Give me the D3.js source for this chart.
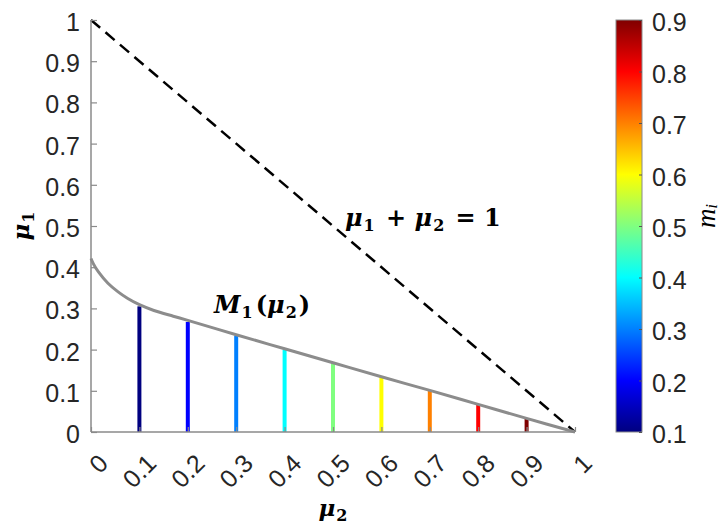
<!DOCTYPE html>
<html>
<head>
<meta charset="utf-8">
<script src="https://cdn.jsdelivr.net/npm/d3@7"></script>
<style>
  body { margin: 0; background: #fff; }
  svg { display: block; }
  .tick text { font-family: "Liberation Sans", Arial, sans-serif; font-size: 25px; fill: #262626; }
  .math { font-family: "DejaVu Serif", "Liberation Serif", serif; fill: #000; }
</style>
</head>
<body>
<div id="chart"></div>
<script>
// boundary curve M1(mu2)
var curveMu2 = [0, 0.005, 0.015, 0.035, 0.056, 0.076, 0.1, 0.13, 0.17, 0.2, 0.3, 0.4, 0.5, 0.6, 0.7, 0.8, 0.9, 1];
var curveMu1 = [0.421, 0.408, 0.389, 0.361, 0.340, 0.324, 0.309, 0.295, 0.281, 0.271, 0.236, 0.202, 0.168, 0.134, 0.101, 0.067, 0.033, 0];

// vertical bars, coloured by m_i
var barMu2 = [0.1, 0.2, 0.3, 0.4, 0.5, 0.6, 0.7, 0.8, 0.9];
var barMu1 = [0.305, 0.267, 0.234, 0.200, 0.167, 0.133, 0.100, 0.066, 0.032];
var barM   = [0.1, 0.2, 0.3, 0.4, 0.5, 0.6, 0.7, 0.8, 0.9];

var xTicks = [0, 0.1, 0.2, 0.3, 0.4, 0.5, 0.6, 0.7, 0.8, 0.9, 1];
var yTicks = [0, 0.1, 0.2, 0.3, 0.4, 0.5, 0.6, 0.7, 0.8, 0.9, 1];
var cTicks = [0.1, 0.2, 0.3, 0.4, 0.5, 0.6, 0.7, 0.8, 0.9];

var width = 725, height = 529;

var svg = d3.select("#chart").append("svg")
            .attr("width", width)
            .attr("height", height);

var x = d3.scaleLinear().domain([0, 1]).range([91, 575]);
var y = d3.scaleLinear().domain([0, 1]).range([432, 20]);

// matlab jet
function jet(t) {
  var c = function(v) { return Math.max(0, Math.min(1, v)); };
  var r = c(1.5 - Math.abs(4 * t - 3)),
      g = c(1.5 - Math.abs(4 * t - 2)),
      b = c(1.5 - Math.abs(4 * t - 1));
  return d3.rgb(r * 255, g * 255, b * 255).toString();
}
var cNorm = d3.scaleLinear().domain([0.1, 0.9]).range([0, 1]);

// dashed line mu1 + mu2 = 1
svg.append("line")
   .attr("x1", x(0)).attr("y1", y(1))
   .attr("x2", x(1)).attr("y2", y(0))
   .attr("stroke", "#000")
   .attr("stroke-width", 2.5)
   .attr("stroke-dasharray", "12,7");

// bars
svg.selectAll("line.bar")
   .data(barMu2)
   .enter()
   .append("line")
   .attr("class", "bar")
   .attr("x1", function(d) { return x(d); })
   .attr("x2", function(d) { return x(d); })
   .attr("y1", y(0))
   .attr("y2", function(d, i) { return y(barMu1[i]); })
   .attr("stroke", function(d, i) { return jet(cNorm(barM[i])); })
   .attr("stroke-width", 4);

// curve
var line = d3.line()
             .x(function(d) { return x(d[0]); })
             .y(function(d) { return y(d[1]); })
             .curve(d3.curveCatmullRom.alpha(0.5));
svg.append("path")
   .datum(d3.zip(curveMu2, curveMu1))
   .attr("d", line)
   .attr("fill", "none")
   .attr("stroke", "#8c8c8c")
   .attr("stroke-width", 3);

// axes
var yAxis = svg.append("g")
   .attr("transform", "translate(" + x(0) + ",0)")
   .call(d3.axisRight(y).tickValues(yTicks).tickSize(6).tickFormat(d3.format("")));
yAxis.selectAll(".tick text")
   .attr("x", -11).attr("dy", "0.42em").attr("text-anchor", "end");

var xAxis = svg.append("g")
   .attr("transform", "translate(0," + y(0) + ")")
   .call(d3.axisTop(x).tickValues(xTicks).tickSize(5).tickFormat(d3.format("")));
xAxis.selectAll(".tick text")
   .attr("y", 0).attr("dy", 0)
   .attr("text-anchor", "end")
   .attr("transform", "translate(18,33) rotate(-45)");

svg.selectAll(".domain").attr("stroke", "#8a8a8a").attr("stroke-width", 1.5);
svg.selectAll(".tick line").attr("stroke", "#8a8a8a").attr("stroke-width", 1.2);
// only bottom + left spines
xAxis.select(".domain").attr("d", "M" + x(0) + ",0H" + x(1));
yAxis.select(".domain").attr("d", "M0," + y(0) + "V" + y(1));

// colorbar
var cb = { x: 616, w: 26 };
var cy = d3.scaleLinear().domain([0.1, 0.9]).range([432, 20]);
var grad = svg.append("defs").append("linearGradient")
   .attr("id", "jetgrad")
   .attr("x1", 0).attr("y1", 1).attr("x2", 0).attr("y2", 0);
grad.selectAll("stop")
   .data(d3.range(0, 1.0001, 0.0625))
   .enter().append("stop")
   .attr("offset", function(d) { return d; })
   .attr("stop-color", function(d) { return jet(d); });
svg.append("rect")
   .attr("x", cb.x).attr("y", cy(0.9))
   .attr("width", cb.w).attr("height", cy(0.1) - cy(0.9))
   .attr("fill", "url(#jetgrad)")
   .attr("stroke", "#8a8a8a").attr("stroke-width", 1);
var cAxis = svg.append("g")
   .attr("transform", "translate(" + (cb.x + cb.w) + ",0)")
   .call(d3.axisLeft(cy).tickValues(cTicks).tickSize(3).tickFormat(d3.format("")));
cAxis.select(".domain").remove();
cAxis.selectAll(".tick line").attr("stroke", "#555").attr("stroke-width", 1);
cAxis.selectAll(".tick text")
   .attr("x", 10).attr("dy", "0.42em").attr("text-anchor", "start");

// math labels: italic symbol + upright subscript
function sym(t, s, sub) {
  t.append("tspan").attr("font-style", "italic").text(s);
  t.append("tspan").attr("font-size", 16).attr("dy", 5).attr("dx", 1).text(sub);
  return t;
}
function plain(t, s, dx) {
  t.append("tspan").attr("dy", -5).attr("dx", dx || 0).text(s);
  return t;
}

var eq = svg.append("text").attr("class", "math")
   .attr("x", 345).attr("y", 226)
   .attr("font-size", 24).attr("font-weight", "bold");
sym(eq, "\u03bc", "1");
plain(eq, " + ", 3);
sym(eq, "\u03bc", "2");
plain(eq, " = 1", 3);

var m1 = svg.append("text").attr("class", "math")
   .attr("x", 214).attr("y", 313)
   .attr("font-size", 24).attr("font-weight", "bold");
sym(m1, "M", "1");
plain(m1, "(", 3);
sym(m1, "\u03bc", "2");
plain(m1, ")", 2);

var xl = svg.append("text").attr("class", "math")
   .attr("x", x(0.5)).attr("y", 516)
   .attr("text-anchor", "middle")
   .attr("font-size", 23).attr("font-weight", "bold");
sym(xl, "\u03bc", "2");

var yl = svg.append("text").attr("class", "math")
   .attr("transform", "translate(29," + y(0.5) + ") rotate(-90)")
   .attr("text-anchor", "middle")
   .attr("font-size", 23).attr("font-weight", "bold");
sym(yl, "\u03bc", "1");

var cl = svg.append("text")
   .attr("transform", "translate(715,216) rotate(-90)")
   .attr("text-anchor", "middle")
   .attr("font-family", "'Liberation Serif', serif")
   .attr("font-size", 27).attr("font-style", "italic");
cl.append("tspan").text("m");
cl.append("tspan").attr("font-size", 17).attr("dy", 2).text("i");
</script>
</body>
</html>
